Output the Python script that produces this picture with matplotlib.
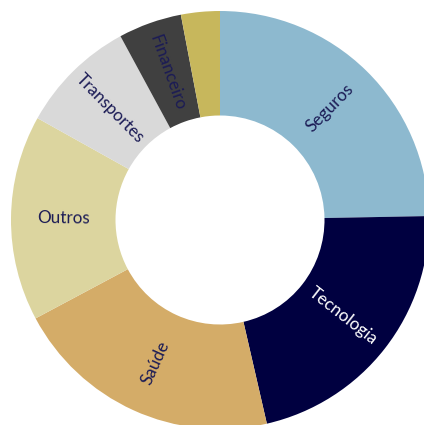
import numpy as np
import matplotlib.pyplot as plt

# sector shares (%), clockwise from the top
sectors = ["Seguros", "Tecnologia", "Saúde", "Outros", "Transportes", "Financeiro", ""]
shares = [24.7, 21.7, 20.8, 15.9, 9.0, 4.9, 3.0]
colors = ["#8DB9CF", "#000040", "#D4AC68", "#DCD59F", "#D9D9D9", "#404040", "#C7B75C"]
text_colors = ["#1B1B55", "white", "#1B1B55", "#1B1B55", "#1B1B55", "#1B1B55", "#1B1B55"]

fig = plt.figure(figsize=(4.24, 4.25), dpi=100)
ax = fig.add_axes([0, 0, 1, 1])

wedges, _ = ax.pie(shares, colors=colors, startangle=90, counterclock=False,
                   radius=1.0, wedgeprops=dict(width=0.5, linewidth=0))

# labels sit in the middle of the ring, rotated along the radius
for w, name, tc in zip(wedges, sectors, text_colors):
    if not name:
        continue
    mid = (w.theta1 + w.theta2) / 2.0
    r = 0.75
    x = r * np.cos(np.radians(mid))
    y = r * np.sin(np.radians(mid))
    rot = mid
    if 90 < rot % 360 < 270:
        rot = rot + 180
    ax.text(x, y, name, rotation=rot % 360, rotation_mode="anchor",
            ha="center", va="center", color=tc, fontsize=12.3, family="Lato")

R = 209.0
ax.set_xlim(-220 / R, (424 - 220) / R)
ax.set_ylim(-(425 - 220) / R, 220 / R)
ax.set_aspect("auto")
ax.axis("off")

fig.savefig("out.png", dpi=100)
